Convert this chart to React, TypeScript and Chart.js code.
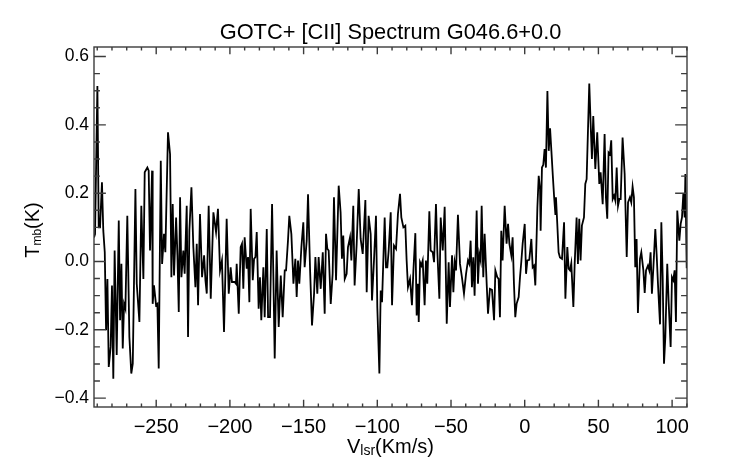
import React, { useEffect, useRef } from "react";
import { Chart, registerables } from "chart.js";

Chart.register(...registerables);

// ---- data ----
const VEL_1 = [
  -292.2, -291.5, -289.9, -289.0, -288.1, -286.8, -285.9, -284.9, -284.0, -283.1,
  -282.2, -280.9, -280.0, -279.1, -278.2, -276.8, -275.4, -274.5, -273.6, -272.7,
  -271.8, -270.9, -269.6, -268.2, -266.9, -265.9, -264.1, -263.2, -261.4, -260.1,
  -258.7, -257.8, -256.0, -255.1, -254.2, -252.8, -252.4, -251.5, -250.1, -249.2,
  -248.3, -246.9, -246.0, -244.7, -243.8, -242.0, -240.6, -239.7, -238.8, -237.9,
  -236.5, -235.6, -234.7, -233.8, -232.9, -231.6, -230.7, -229.3, -228.4, -227.5,
  -226.1, -224.8, -223.4, -222.5, -221.6, -220.3, -218.9, -217.5, -216.6, -215.7,
  -214.4, -213.0,
];
const TMB_1 = [
  0.07, 0.08, 0.514, 0.1, 0.1, 0.232, 0.091, 0.027, -0.201, -0.051,
  -0.309, -0.25, -0.07, -0.343, 0.032, -0.274, 0.12, -0.172, -0.007, -0.255,
  -0.124, -0.138, 0.134, -0.221, -0.328, -0.299, 0.212, -0.065, -0.177, 0.163,
  -0.051, 0.261, 0.275, 0.266, 0.032, 0.266, -0.124, -0.07, -0.128, -0.124,
  -0.313, 0.295, -0.007, 0.081, 0.027, 0.378, 0.314, -0.046, 0.168, -0.041,
  0.129, 0.018, -0.148, 0.188, -0.046, 0.032, -0.036, 0.163, -0.221, 0.091,
  0.217, 0.042, -0.075, 0.052, -0.128, 0.139, -0.046, 0.018, -0.055, -0.094,
  0.163, -0.109,
];

const VEL_2 = [
  -211.2, -209.4, -208.1, -206.7, -205.4, -204.0, -202.2, -200.8, -199.5, -198.6,
  -196.8, -195.9, -195.4, -194.0, -192.7, -191.8, -190.9, -190.0, -188.6, -187.7,
  -186.8, -185.9, -184.5, -183.6, -182.7, -181.8, -180.5, -179.6, -178.7, -177.3,
  -176.4, -175.0, -174.1, -172.8, -171.4, -170.5, -169.6, -168.3, -166.9, -165.5,
  -164.2, -162.8, -161.9, -160.6, -159.7, -158.3, -156.9, -155.6, -154.7, -153.8,
  -152.9, -151.5, -150.2, -149.3, -147.9, -147.0, -145.6, -144.3, -142.9, -142.0,
  -140.7, -139.8, -138.4, -137.0, -135.7, -134.8, -133.9, -133.0, -131.6, -130.3,
  -129.4,
];
const TMB_2 = [
  0.144, 0.086, 0.154, -0.026, 0.003, -0.206, 0.125, -0.094, -0.017, -0.06,
  -0.06, -0.065, -0.007, -0.153, 0.042, 0.052, -0.08, 0.071, -0.021, 0.013,
  -0.119, 0.154, -0.055, 0.008, 0.013, 0.086, -0.138, -0.046, -0.172, -0.017,
  -0.163, 0.095, -0.163, -0.163, 0.168, -0.046, -0.284, 0.032, -0.192, -0.041,
  -0.163, -0.026, -0.026, 0.061, 0.134, 0.08, -0.065, 0.008, -0.104, 0.003,
  -0.065, 0.042, 0.115, -0.017, 0.061, 0.197, -0.026, -0.187, -0.094, 0.013,
  -0.094, 0.013, -0.08, 0.027, -0.153, 0.081, 0.037, 0.032, -0.124, -0.036,
  0.188,
];

const VEL_3 = [
  -128.0, -126.2, -124.9, -124.0, -123.1, -122.1, -120.8, -119.9, -118.5, -117.6,
  -116.3, -115.4, -114.0, -112.6, -111.3, -109.9, -108.1, -107.2, -105.9, -104.5,
  -103.6, -102.2, -100.9, -100.0, -98.6, -97.7, -96.8, -95.0, -94.1, -93.2,
  -92.3, -90.9, -90.0, -88.7, -87.3, -86.0, -84.6, -83.7, -82.3, -81.0,
  -80.1, -79.2, -77.8, -76.5, -75.5, -74.2, -73.3, -72.4, -71.9, -71.0,
  -70.1, -69.2, -67.9, -67.0, -66.1, -64.7, -63.8, -62.4, -61.5, -60.2,
  -59.3, -57.9, -57.0, -55.6, -54.3, -52.9, -51.6, -50.7,
];
const TMB_3 = [
  -0.055, 0.222, 0.144, 0.008, 0.076, -0.051, -0.036, 0.042, 0.071, 0.003,
  0.163, -0.07, 0.051, 0.212, 0.066, 0.022, 0.18, -0.09, 0.134, 0.08,
  -0.114, 0.008, 0.134, -0.133, -0.328, -0.085, -0.119, 0.129, -0.017, -0.017,
  0.032, 0.144, -0.128, 0.047, 0.037, 0.139, 0.198, 0.129, 0.1, 0.105,
  0.003, -0.075, -0.051, -0.128, -0.026, 0.083, -0.158, -0.065, -0.177, -0.002,
  -0.012, 0.003, -0.128, 0.003, -0.065, 0.147, 0.032, 0.027, -0.002, 0.168,
  0.032, -0.109, 0.129, 0.032, 0.16, -0.182, -0.002, -0.133,
];

const VEL_4 = [
  -49.3, -48.4, -47.5, -46.6, -45.3, -43.9, -42.6, -41.2, -39.8, -38.5,
  -37.6, -36.7, -35.8, -34.9, -34.0, -32.6, -31.7, -30.8, -29.9, -29.2,
  -28.1, -27.2, -25.8, -24.9, -23.6, -22.2, -20.8, -19.9, -18.6, -17.7,
  -16.8, -15.9, -15.0, -13.6, -12.3, -11.3, -10.4, -9.1, -8.2, -7.3,
  -6.4, -5.5, -4.1, -3.2, -2.3, -1.4, 0.0, 0.9, 1.8, 3.1,
  4.5, 5.4, 6.3, 7.2, 8.6, 9.5, 10.4, 10.8, 11.7, 12.6,
  13.5, 14.4, 15.4, 16.3, 17.2, 18.1, 19.0, 19.9, 20.8, 21.2,
  22.1, 23.0, 23.9, 25.3, 26.7, 27.6, 28.9, 29.8, 30.7,
];
const TMB_4 = [
  0.018, -0.09, -0.002, -0.026, 0.137, -0.007, -0.046, -0.094, -0.036, 0.003,
  -0.007, 0.061, -0.075, 0.012, -0.1, 0.149, -0.065, 0.022, 0.003, 0.163,
  -0.046, 0.081, -0.065, -0.153, -0.08, -0.083, -0.172, -0.026, -0.046, -0.051,
  -0.163, 0.09, 0.003, 0.163, 0.052, 0.11, 0.052, 0.018, 0.071, -0.065,
  -0.163, -0.124, -0.104, -0.046, 0.0, 0.052, 0.11, -0.036, 0.003, 0.005,
  0.066, -0.017, -0.012, -0.07, 0.159, 0.251, 0.212, 0.09, 0.275, 0.283,
  0.329, 0.275, 0.499, 0.324, 0.39, 0.324, 0.256, 0.193, 0.139, 0.188,
  0.11, 0.027, 0.012, 0.008, 0.115, -0.109, 0.042, -0.021, -0.026,
];

const VEL_5 = [
  31.6, 33.0, 33.9, 35.2, 36.1, 37.0, 37.9, 38.8, 40.2, 41.1,
  42.0, 43.8, 44.7, 45.6, 46.5, 47.4, 47.9, 49.2, 50.6, 51.5,
  52.9, 54.2, 55.1, 56.0, 56.9, 57.8, 58.7, 59.7, 60.6, 61.5,
  62.4, 63.3, 64.2, 65.1, 66.4, 67.8, 69.2, 70.1, 71.4, 72.3,
  73.2, 74.1, 75.0, 75.9, 76.8, 78.2, 79.1, 80.5, 81.4, 82.3,
  83.6, 84.5, 85.4, 86.3, 87.3, 88.6, 89.5, 90.4, 91.8, 92.7,
  93.6, 94.5, 95.4, 96.7, 97.7, 99.0, 99.9, 100.8, 101.7, 102.6,
  103.5, 104.9, 105.8, 106.7, 107.6, 108.5, 109.0, 109.9, 110.1,
];
const TMB_5 = [
  -0.005, -0.133, -0.007, 0.129, -0.007, 0.125, 0.003, 0.105, 0.129, 0.227,
  0.241, 0.521, 0.407, 0.3, 0.426, 0.324, 0.271, 0.378, 0.227, 0.261,
  0.168, 0.373, 0.187, 0.125, 0.319, 0.314, 0.355, 0.183, 0.193, 0.178,
  0.275, 0.163, 0.183, 0.183, 0.363, 0.256, 0.013, 0.173, 0.188, 0.173,
  0.219, 0.188, -0.017, 0.066, -0.151, 0.008, 0.027, -0.026, -0.092, -0.026,
  -0.012, -0.026, 0.027, -0.094, -0.017, 0.095, 0.022, -0.065, -0.184, 0.115,
  -0.046, -0.299, -0.221, -0.007, -0.124, -0.25, -0.046, -0.055, -0.026, -0.177,
  0.149, 0.061, 0.11, 0.129, 0.198, 0.129, 0.256, -0.017, -0.017,
];

const VELOCITY = [...VEL_1, ...VEL_2, ...VEL_3, ...VEL_4, ...VEL_5];
const TMB = [...TMB_1, ...TMB_2, ...TMB_3, ...TMB_4, ...TMB_5];

const X_TICKS = [-250, -200, -150, -100, -50, 0, 50, 100];
const Y_TICKS = [-0.4, -0.2, 0.0, 0.2, 0.4, 0.6];
const X_MIN = -292.2;
const X_MAX = 110.1;
const Y_MIN = -0.426;
const Y_MAX = 0.628;
const X_MINOR_STEP = 10;
const Y_MINOR_STEP = 0.05;

const TITLE = "GOTC+ [CII] Spectrum G046.6+0.0";
const X_TITLE = ["V", "lsr", "(Km/s)"];
const Y_TITLE = ["T", "mb", "(K)"];

const FONT = '"Liberation Sans", Arial, Helvetica, sans-serif';
const AXIS_COLOR = "#3c3c3c";

const minus = (s: string) => s.replace("-", "\u2212");

function drawSubText(
  ctx: CanvasRenderingContext2D,
  parts: string[],
  cx: number,
  baseline: number,
  mainSize: number,
  subSize: number,
  subShift: number
) {
  const fonts = parts.map((_, i) => `${i === 1 ? subSize : mainSize}px ${FONT}`);
  const widths = parts.map((p, i) => {
    ctx.font = fonts[i];
    return ctx.measureText(p).width;
  });
  const total = widths.reduce((a, b) => a + b, 0);
  let x = cx - total / 2;
  ctx.textAlign = "left";
  ctx.textBaseline = "alphabetic";
  parts.forEach((p, i) => {
    ctx.font = fonts[i];
    ctx.fillText(p, x, baseline + (i === 1 ? subShift : 0));
    x += widths[i];
  });
}

const idlFrame = {
  id: "idlFrame",
  afterDraw(chart: any) {
    const { ctx, chartArea: a, scales } = chart;
    const xs = scales.x;
    const ys = scales.y;
    const h = a.bottom - a.top;
    const w = a.right - a.left;
    const xMaj = 0.02 * h;
    const yMaj = 0.02 * w;
    ctx.save();
    ctx.strokeStyle = AXIS_COLOR;
    ctx.lineWidth = 1.4;
    ctx.strokeRect(a.left, a.top, w, h);
    ctx.beginPath();
    // x ticks (bottom & top)
    for (let v = Math.ceil(X_MIN / X_MINOR_STEP) * X_MINOR_STEP; v <= X_MAX; v += X_MINOR_STEP) {
      const major = X_TICKS.includes(v);
      const len = major ? xMaj : xMaj / 2;
      const px = xs.getPixelForValue(v);
      ctx.moveTo(px, a.bottom);
      ctx.lineTo(px, a.bottom - len);
      ctx.moveTo(px, a.top);
      ctx.lineTo(px, a.top + len);
    }
    // y ticks (left & right)
    for (let k = Math.ceil(Y_MIN / Y_MINOR_STEP); k * Y_MINOR_STEP <= Y_MAX; k++) {
      const v = k * Y_MINOR_STEP;
      const major = Y_TICKS.some((t) => Math.abs(t - v) < 1e-6);
      const len = major ? yMaj : yMaj / 2;
      const py = ys.getPixelForValue(v);
      ctx.moveTo(a.left, py);
      ctx.lineTo(a.left + len, py);
      ctx.moveTo(a.right, py);
      ctx.lineTo(a.right - len, py);
    }
    ctx.stroke();

    ctx.fillStyle = "#000";
    // title
    ctx.font = `21.8px ${FONT}`;
    ctx.textAlign = "center";
    ctx.textBaseline = "alphabetic";
    ctx.fillText(TITLE, (a.left + a.right) / 2, 39);

    // x title
    drawSubText(ctx, X_TITLE, (a.left + a.right) / 2, 453, 20, 14, 2);

    // y title (rotated)
    ctx.save();
    ctx.translate(39, 230);
    ctx.rotate(-Math.PI / 2);
    drawSubText(ctx, Y_TITLE, 0, 0, 20, 12, 1.5);
    ctx.restore();

    ctx.restore();
  },
};

export default function App() {
  const ref = useRef<HTMLCanvasElement | null>(null);

  useEffect(() => {
    if (!ref.current) return;
    const points = VELOCITY.map((v, i) => ({ x: v, y: TMB[i] }));
    const chart = new Chart(ref.current, {
      type: "line",
      data: {
        datasets: [
          {
            data: points,
            borderColor: "#000",
            borderWidth: 1.8,
            pointRadius: 0,
            tension: 0,
            fill: false,
          },
        ],
      },
      options: {
        animation: false,
        responsive: false,
        layout: { padding: { top: 47, right: 55, left: 0, bottom: 0 } },
        plugins: {
          legend: { display: false },
          tooltip: { enabled: false },
          title: { display: false },
        },
        scales: {
          x: {
            type: "linear",
            min: X_MIN,
            max: X_MAX,
            grid: { display: false, drawTicks: false },
            border: { display: false },
            ticks: {
              color: "#000",
              font: { family: FONT, size: 20 },
              padding: 8,
              autoSkip: false,
              maxRotation: 0,
              callback: (v: any) => minus(String(v)),
            },
            afterBuildTicks: (s: any) => {
              s.ticks = X_TICKS.map((v) => ({ value: v }));
            },
            afterFit: (s: any) => {
              s.height = 57;
            },
          },
          y: {
            type: "linear",
            min: Y_MIN,
            max: Y_MAX,
            grid: { display: false, drawTicks: false },
            border: { display: false },
            ticks: {
              color: "#000",
              font: { family: FONT, size: 17.5 },
              padding: 5,
              autoSkip: false,
              callback: (v: any) => minus(Number(v).toFixed(1)),
            },
            afterBuildTicks: (s: any) => {
              s.ticks = Y_TICKS.map((v) => ({ value: v }));
            },
            afterFit: (s: any) => {
              s.width = 94;
            },
          },
        },
      },
      plugins: [idlFrame],
    });
    return () => chart.destroy();
  }, []);

  return (
    <div style={{ position: "absolute", left: 0, top: 0, width: 742, height: 464, background: "#fff" }}>
      <canvas ref={ref} width={742} height={464} style={{ display: "block", width: 742, height: 464 }} />
    </div>
  );
}
